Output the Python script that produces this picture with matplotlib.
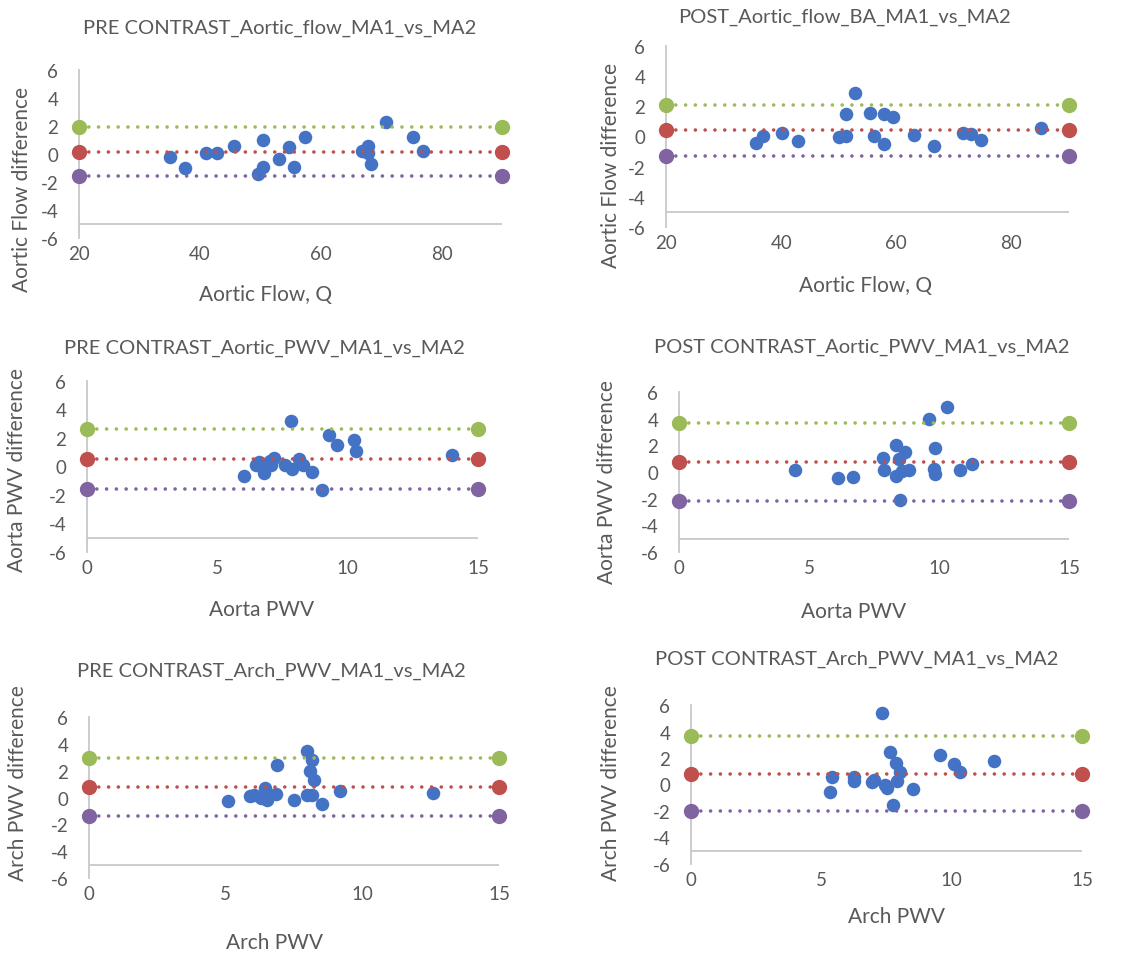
import matplotlib.pyplot as plt

plt.rcParams['font.family'] = ['Lato', 'DejaVu Sans']
plt.rcParams['axes.unicode_minus'] = False

TXT = '#595959'
BLUE = '#4472C4'
GREEN = '#9BBB59'
RED = '#C0504D'
PURPLE = '#8064A2'

# panel 1: PRE contrast aortic flow
pre_flow_x = [35.1, 37.5, 41.0, 42.9, 45.7, 50.5, 49.6, 50.5, 53.1, 54.7,
              55.5, 57.4, 66.8, 67.8, 67.9, 68.3, 70.8, 75.3, 76.9]
pre_flow_y = [-0.19, -0.98, 0.07, 0.07, 0.6, 0.98, -1.44, -0.91, -0.33, 0.48,
              -0.91, 1.2, 0.24, 0.57, 0.05, -0.72, 2.3, 1.22, 0.19]
pre_flow_lim = [1.9, 0.12, -1.58]

# panel 2: POST aortic flow
post_flow_x = [35.7, 36.8, 40.1, 42.9, 50.0, 51.3, 51.2, 52.9, 55.4, 56.1,
               57.8, 57.9, 59.5, 63.0, 66.6, 71.6, 72.9, 74.8, 85.2]
post_flow_y = [-0.4, 0.04, 0.2, -0.29, -0.02, 0.04, 1.5, 2.9, 1.56, 0.02,
               -0.48, 1.48, 1.28, 0.09, -0.62, 0.26, 0.15, -0.22, 0.55]
post_flow_lim = [2.07, 0.4, -1.3]

# panel 3: PRE aortic PWV
pre_apwv_x = [6.04, 6.47, 6.6, 6.79, 6.88, 7.03, 7.07, 7.16, 7.58, 7.83,
              7.85, 8.15, 8.29, 8.64, 9.0, 9.28, 9.6, 10.23, 10.31, 14.02]
pre_apwv_y = [-0.7, 0.12, 0.33, -0.44, 0.12, 0.4, 0.12, 0.63, 0.14, 3.17,
              -0.19, 0.51, 0.09, -0.42, -1.66, 2.19, 1.54, 1.84, 1.07, 0.79]
pre_apwv_lim = [2.61, 0.51, -1.61]

# panel 4: POST aortic PWV
post_apwv_x = [4.46, 6.13, 6.71, 7.85, 7.87, 8.36, 8.36, 8.46, 8.5, 8.68,
               8.59, 8.85, 9.63, 9.81, 9.83, 9.85, 10.32, 10.79, 11.26]
post_apwv_y = [0.12, -0.43, -0.38, 1.05, 0.18, 2.0, -0.28, 1.0, -2.13, 1.48,
               0.05, 0.12, 3.95, 0.25, 1.78, -0.12, 4.9, 0.18, 0.58]
post_apwv_lim = [3.68, 0.73, -2.2]

# panel 5: PRE arch PWV
pre_arch_x = [5.09, 5.89, 6.05, 6.29, 6.44, 6.48, 6.51, 6.85, 6.88, 7.49,
              7.98, 7.96, 8.16, 8.09, 8.15, 8.24, 8.52, 9.18, 12.6]
pre_arch_y = [-0.25, 0.1, 0.17, -0.02, 0.72, 0.25, -0.15, 0.25, 2.43, -0.2,
              3.5, 0.22, 2.76, 1.96, 0.15, 1.27, -0.5, 0.5, 0.32]
pre_arch_lim = [2.96, 0.75, -1.39]

# panel 6: POST arch PWV
post_arch_x = [5.32, 5.42, 6.24, 6.26, 6.94, 7.03, 7.33, 7.46, 7.52, 7.62,
               7.74, 7.86, 7.89, 8.03, 8.52, 9.57, 10.08, 10.31, 11.61]
post_arch_y = [-0.53, 0.6, 0.23, 0.6, 0.2, 0.35, 5.36, -0.03, -0.28, 2.47,
               -1.56, 1.66, 0.3, 0.98, -0.35, 2.21, 1.53, 0.98, 1.76]
post_arch_lim = [3.67, 0.83, -1.99]

W, H = 1148, 954
fig = plt.figure(figsize=(W / 100, H / 100), dpi=100)


def panel(box, x, y, lims, xr, xticks, title, title_pos, xlab, xlab_pos, ylab, ylab_pos):
    l, t, r, b = box
    ax = fig.add_axes([l / W, 1 - b / H, (r - l) / W, (b - t) / H])
    ax.scatter(x, y, s=95, color=BLUE, zorder=2, linewidths=0)
    # limits of agreement drawn over the points, as in the original
    for v, c in zip(lims, [GREEN, RED, PURPLE]):
        ax.plot(xr, [v, v], color=c, lw=2.6, dashes=(0.01, 2.7),
                dash_capstyle='round', zorder=3)
        ax.plot(xr, [v, v], 'o', color=c, ms=10, clip_on=False, zorder=4)
    ax.axhline(-5, color='#C8C8C8', lw=1.3, zorder=1)
    ax.set_xlim(xr)
    ax.set_ylim(-6, 6)
    ax.set_xticks(xticks)
    ax.set_yticks(range(-6, 7, 2))
    for s in ['top', 'right', 'bottom']:
        ax.spines[s].set_visible(False)
    ax.spines['left'].set_color('#C8C8C8')
    ax.spines['left'].set_linewidth(1.3)
    ax.tick_params(length=0, labelsize=13.5, colors=TXT)
    ax.tick_params(axis='y', pad=15)
    ax.tick_params(axis='x', pad=5)
    ax.patch.set_alpha(0)
    fig.text(title_pos[0] / W, 1 - title_pos[1] / H, title, ha='center',
             va='center', fontsize=14.5, color=TXT)
    fig.text(xlab_pos[0] / W, 1 - xlab_pos[1] / H, xlab, ha='center',
             va='center', fontsize=15, color=TXT)
    fig.text(ylab_pos[0] / W, 1 - ylab_pos[1] / H, ylab, ha='center',
             va='center', fontsize=15, color=TXT, rotation=90)
    return ax


panel((79, 71, 502, 239), pre_flow_x, pre_flow_y, pre_flow_lim, [20, 90],
      [20, 40, 60, 80], 'PRE CONTRAST_Aortic_flow_MA1_vs_MA2', (280, 28),
      'Aortic Flow, Q', (266, 295), 'Aortic Flow difference', (22, 189))
panel((666, 47, 1069, 228), post_flow_x, post_flow_y, post_flow_lim, [20, 90],
      [20, 40, 60, 80], 'POST_Aortic_flow_BA_MA1_vs_MA2', (845, 17),
      'Aortic Flow, Q', (866, 286), 'Aortic Flow difference', (611, 165))
panel((87, 382, 478, 553), pre_apwv_x, pre_apwv_y, pre_apwv_lim, [0, 15],
      [0, 5, 10, 15], 'PRE CONTRAST_Aortic_PWV_MA1_vs_MA2', (264, 348),
      'Aorta PWV', (262, 610), 'Aorta PWV difference', (17, 470))
panel((679, 393, 1069, 553), post_apwv_x, post_apwv_y, post_apwv_lim, [0, 15],
      [0, 5, 10, 15], 'POST CONTRAST_Aortic_PWV_MA1_vs_MA2', (862, 347),
      'Aorta PWV', (854, 612), 'Aorta PWV difference', (607, 482))
panel((89, 718, 499, 879), pre_arch_x, pre_arch_y, pre_arch_lim, [0, 15],
      [0, 5, 10, 15], 'PRE CONTRAST_Arch_PWV_MA1_vs_MA2', (271, 671),
      'Arch PWV', (275, 943), 'Arch PWV difference', (18, 783))
panel((691, 706, 1082, 865), post_arch_x, post_arch_y, post_arch_lim, [0, 15],
      [0, 5, 10, 15], 'POST CONTRAST_Arch_PWV_MA1_vs_MA2', (857, 659),
      'Arch PWV', (896, 917), 'Arch PWV difference', (611, 783))

fig.savefig('out.png', dpi=100, facecolor='white')
